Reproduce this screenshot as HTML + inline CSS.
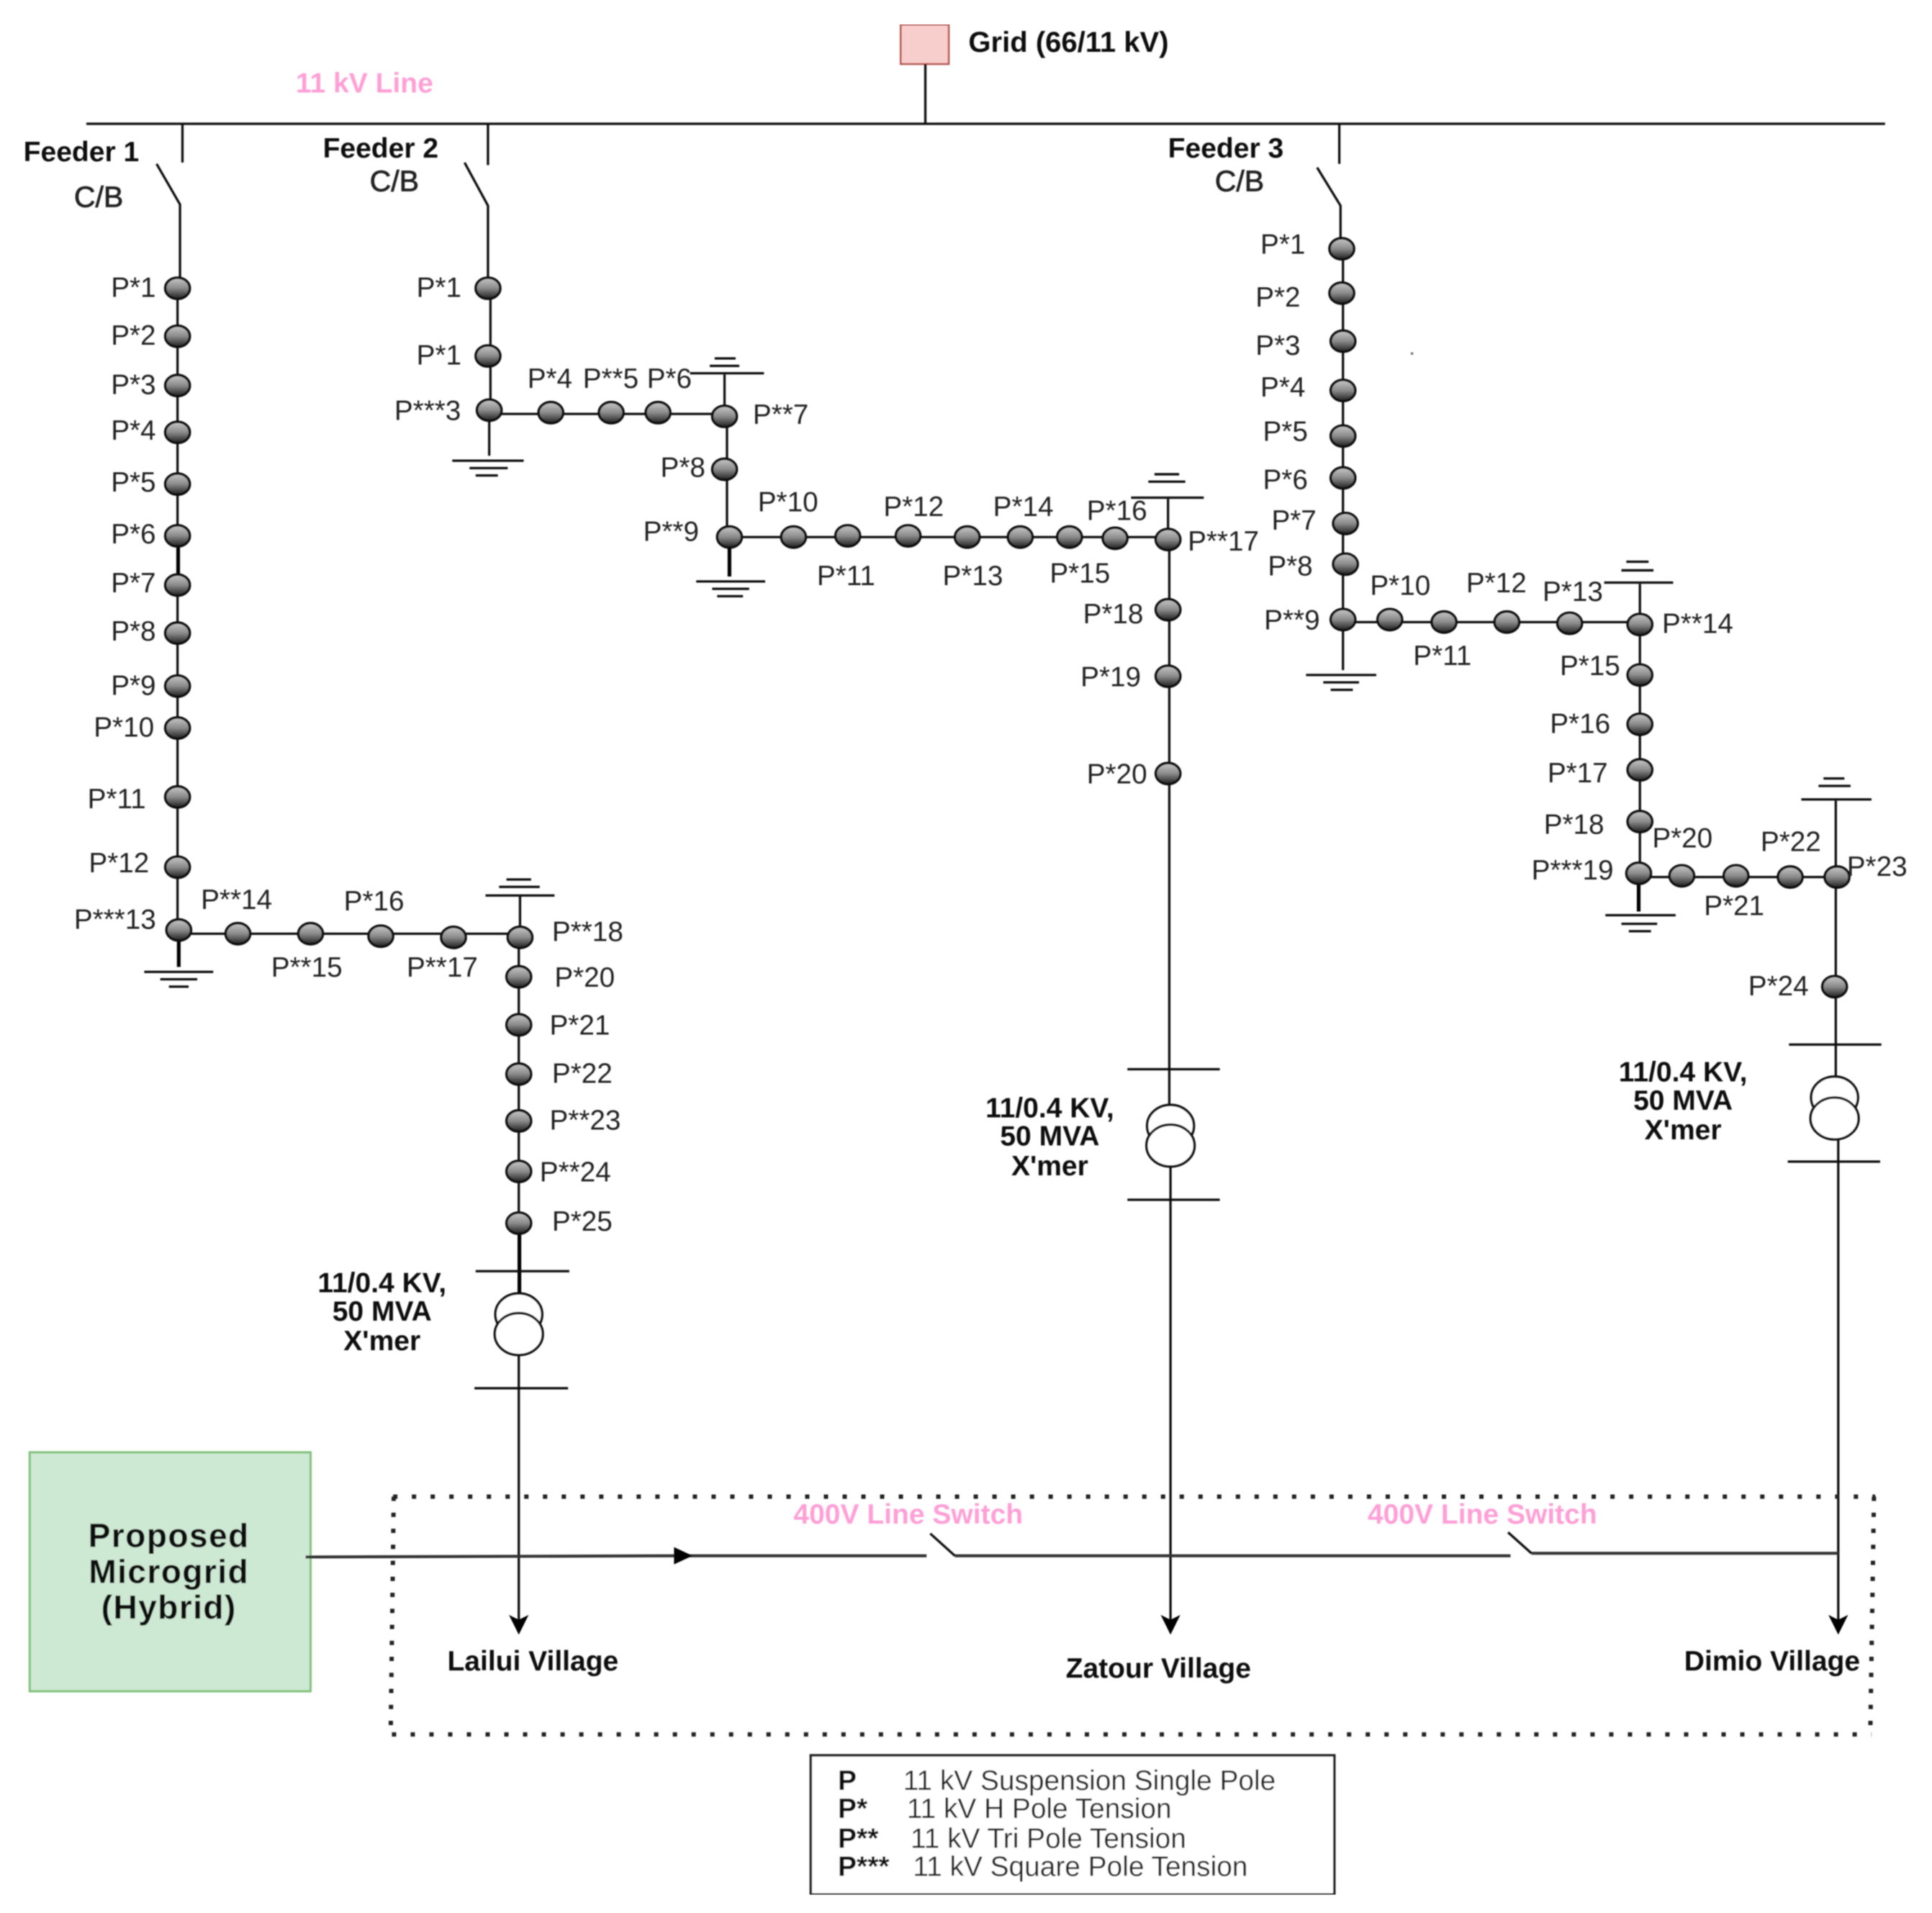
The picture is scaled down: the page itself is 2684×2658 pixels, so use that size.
<!DOCTYPE html>
<html>
<head>
<meta charset="utf-8">
<style>
html,body{margin:0;padding:0;background:#fff}
svg{display:block}
text{font-family:"Liberation Sans",sans-serif;font-size:22.600px;fill:#222}
.b{font-weight:bold;fill:#111;font-size:22.800px}
.p{font-weight:bold;fill:#ff9fd6;font-size:22.800px}
.m{text-anchor:middle}
.c{fill:#222;stroke:#222;stroke-width:.45px;font-size:24px}
.k{font-size:22.700px}
.l{stroke:#111;stroke-width:1.900;fill:none}
.h{stroke:#000;stroke-width:3;fill:none}
.t{stroke:#111;stroke-width:2;fill:#fff}
</style>
</head>
<body>
<svg xmlns="http://www.w3.org/2000/svg" width="2684" height="2658" viewBox="0 0 1568 1553">
<defs>
<linearGradient id="g" x1="0" y1="0" x2="0" y2="1">
<stop offset="0" stop-color="#c8c8c8"/><stop offset="0.5" stop-color="#8a8a8a"/><stop offset="1" stop-color="#1e1e1e"/>
</linearGradient>
<ellipse id="o" rx="10" ry="8.600" fill="url(#g)" stroke="#111" stroke-width="2"/>
<filter id="s" x="0" y="0" width="100%" height="100%"><feGaussianBlur stdDeviation="0.45"/></filter>
</defs>
<rect width="1568" height="1553" fill="#fff"/>
<g filter="url(#s)">
<!-- Grid and bus -->
<rect x="731" y="20" width="39" height="32" fill="#f8cecc" stroke="#b85450" stroke-width="1.500"/>
<path class="l" d="M751 52V100M70 100.500H1530"/>
<!-- Feeder 1 -->
<path class="l" d="M148 100V132M127 133L146 166V234M144 234V755"/>
<path class="h" d="M145 755V785M144.500 440V470"/>
<path class="l" d="M145 758H422M422 727V761M421 761V993"/>
<path class="h" d="M421.500 993V1050"/>
<path class="l" d="M117 789H173M130 795H160M137 801H153M394 727H450M405 720H438M411 714H431"/>
<!-- Feeder 2 -->
<path class="l" d="M396 100V134M377 132L396 167V234M398 234V333M397 333V370M397 336H588M588 304V338"/>
<path class="l" d="M367 374H425M381 380H412M386 386H404M560 303H620M576 297H600M580 291H597"/>
<path class="l" d="M590 338V436M592 436H948M948 405V438M949 438V897"/>
<path class="h" d="M592 436V468"/>
<path class="l" d="M565 472H621M578 478H608M582 484H603M918 404H977M932 391H962M937 385H957"/>
<!-- Feeder 3 -->
<path class="l" d="M1087 100V133M1069 136L1088 167V202M1090 202V503V544M1090 505H1331M1331 474V507M1331 507V709"/>
<path class="h" d="M1330 709V740"/>
<path class="l" d="M1060 548H1117M1074 554H1103M1080 560H1098M1302 473H1358M1316 463H1342M1320 456H1338M1303 743H1360M1316 750H1345M1322 756H1340"/>
<path class="l" d="M1330 712H1491M1490 650V712M1490 712V875M1462 649H1519M1476 638H1502M1480 632H1497"/>
<rect x="1145" y="286" width="2" height="2" fill="#777"/>
<!-- Poles F1 -->
<use href="#o" x="144" y="234"/><use href="#o" x="144" y="273"/><use href="#o" x="144" y="313"/><use href="#o" x="144" y="351"/><use href="#o" x="144" y="393"/><use href="#o" x="144" y="435"/><use href="#o" x="144" y="475"/><use href="#o" x="144" y="514"/><use href="#o" x="144" y="557"/><use href="#o" x="144" y="591"/><use href="#o" x="144" y="647"/><use href="#o" x="144" y="704"/><use href="#o" x="145" y="755"/>
<use href="#o" x="193" y="758"/><use href="#o" x="252" y="758"/><use href="#o" x="309" y="760"/><use href="#o" x="368" y="761"/><use href="#o" x="422" y="761"/>
<use href="#o" x="421" y="793"/><use href="#o" x="421" y="832"/><use href="#o" x="421" y="872"/><use href="#o" x="421" y="910"/><use href="#o" x="421" y="951"/><use href="#o" x="421" y="993"/>
<!-- Poles F2 -->
<use href="#o" x="396" y="234"/><use href="#o" x="396" y="289"/><use href="#o" x="397" y="333"/>
<use href="#o" x="447" y="335"/><use href="#o" x="496" y="335"/><use href="#o" x="534" y="335"/><use href="#o" x="588" y="338"/>
<use href="#o" x="588" y="381"/><use href="#o" x="592" y="436"/>
<use href="#o" x="644" y="436"/><use href="#o" x="688" y="435"/><use href="#o" x="737" y="435"/><use href="#o" x="785" y="436"/><use href="#o" x="828" y="436"/><use href="#o" x="868" y="436"/><use href="#o" x="905" y="437"/><use href="#o" x="948" y="438"/>
<use href="#o" x="948" y="495"/><use href="#o" x="948" y="549"/><use href="#o" x="948" y="628"/>
<!-- Poles F3 -->
<use href="#o" x="1089" y="202"/><use href="#o" x="1089" y="238"/><use href="#o" x="1090" y="277"/><use href="#o" x="1090" y="317"/><use href="#o" x="1090" y="354"/><use href="#o" x="1090" y="388"/><use href="#o" x="1092" y="425"/><use href="#o" x="1092" y="458"/><use href="#o" x="1090" y="503"/>
<use href="#o" x="1128" y="503"/><use href="#o" x="1172" y="505"/><use href="#o" x="1223" y="505"/><use href="#o" x="1274" y="506"/><use href="#o" x="1331" y="507"/>
<use href="#o" x="1331" y="548"/><use href="#o" x="1331" y="588"/><use href="#o" x="1331" y="625"/><use href="#o" x="1331" y="667"/><use href="#o" x="1330" y="709"/>
<use href="#o" x="1365" y="711"/><use href="#o" x="1409" y="711"/><use href="#o" x="1453" y="712"/><use href="#o" x="1491" y="712"/><use href="#o" x="1489" y="801"/>
<!-- Transformers -->
<path class="l" d="M386 1032H462M385 1127H461M421 1100V1320"/>
<ellipse class="t" cx="421" cy="1067" rx="19" ry="17"/><ellipse class="t" cx="421" cy="1083" rx="19.500" ry="17"/>
<path class="l" d="M915 868H990M915 974H990M950 947V1320"/>
<ellipse class="t" cx="950" cy="914" rx="19" ry="17"/><ellipse class="t" cx="950" cy="930" rx="19.500" ry="17"/>
<path class="l" d="M1452 848H1527M1451 943H1526M1492 925V1320"/>
<ellipse class="t" cx="1489" cy="891" rx="19" ry="17"/><ellipse class="t" cx="1489" cy="908" rx="19.500" ry="17"/>
<!-- Arrows -->
<path d="M421 1327L413 1311L421 1315L429 1311Z" fill="#000"/>
<path d="M950 1327L942 1311L950 1315L958 1311Z" fill="#000"/>
<path d="M1492 1327L1484 1311L1492 1315L1500 1311Z" fill="#000"/>
<!-- Microgrid -->
<rect x="24" y="1179" width="228" height="194" fill="#cde8d3" stroke="#82c27a" stroke-width="1.800"/>
<!-- Dotted area -->
<path d="M319 1215H1522" fill="none" stroke="#222" stroke-width="3.500" stroke-dasharray="3.500 11.700"/>
<path d="M318 1408H1519" fill="none" stroke="#222" stroke-width="3.500" stroke-dasharray="3.500 11.700"/>
<path d="M319.500 1215L317 1408" fill="none" stroke="#222" stroke-width="3.500" stroke-dasharray="3.500 9.500"/>
<path d="M1521 1215L1518 1408" fill="none" stroke="#222" stroke-width="3.500" stroke-dasharray="3.500 9.500"/>
<!-- 400V line -->
<path d="M248 1264L552 1263H752M775 1263H1226M1243 1261H1492" fill="none" stroke="#333" stroke-width="2.400"/>
<path class="l" d="M755 1245L775 1263M1224 1244L1243 1261"/>
<path d="M547 1256L562 1263L547 1270Z" fill="#000"/>
<!-- Legend -->
<rect x="658" y="1425" width="425" height="113" fill="#fff" stroke="#222" stroke-width="2"/>
<!-- Text -->
<text class="b" x="786" y="42" style="font-size:23.400px">Grid (66/11 kV)</text>
<text class="p" x="240" y="75">11 kV Line</text>
<text class="b" x="19" y="131">Feeder 1</text><text class="c" x="60" y="168">C/B</text>
<text class="b" x="262" y="128">Feeder 2</text><text class="c" x="300" y="155">C/B</text>
<text class="b" x="948" y="128">Feeder 3</text><text class="c" x="986" y="155">C/B</text>

<text x="90" y="241">P*1</text><text x="90" y="280">P*2</text><text x="90" y="320">P*3</text><text x="90" y="357">P*4</text><text x="90" y="399">P*5</text><text x="90" y="441">P*6</text><text x="90" y="481">P*7</text><text x="90" y="520">P*8</text><text x="90" y="564">P*9</text><text x="76" y="598">P*10</text><text x="71" y="656">P*11</text><text x="72" y="708">P*12</text><text x="60" y="754">P***13</text>
<text x="163" y="738">P**14</text><text x="220" y="793">P**15</text><text x="279" y="739">P*16</text><text x="330" y="793">P**17</text><text x="448" y="764">P**18</text><text x="450" y="801">P*20</text><text x="446" y="840">P*21</text><text x="448" y="879">P*22</text><text x="446" y="917">P**23</text><text x="438" y="959">P**24</text><text x="448" y="999">P*25</text>

<text x="338" y="241">P*1</text><text x="338" y="296">P*1</text><text x="320" y="341">P***3</text><text x="428" y="315">P*4</text><text x="473" y="315">P**5</text><text x="525" y="315">P*6</text><text x="611" y="344">P**7</text><text x="536" y="387">P*8</text><text x="522" y="439">P**9</text><text x="615" y="415">P*10</text><text x="663" y="475">P*11</text><text x="717" y="419">P*12</text><text x="765" y="475">P*13</text><text x="806" y="419">P*14</text><text x="852" y="473">P*15</text><text x="882" y="422">P*16</text><text x="964" y="447">P**17</text><text x="879" y="506">P*18</text><text x="877" y="557">P*19</text><text x="882" y="636">P*20</text>

<text x="1023" y="206">P*1</text><text x="1019" y="249">P*2</text><text x="1019" y="288">P*3</text><text x="1023" y="322">P*4</text><text x="1025" y="358">P*5</text><text x="1025" y="397">P*6</text><text x="1032" y="430">P*7</text><text x="1029" y="467">P*8</text><text x="1026" y="511">P**9</text><text x="1112" y="483">P*10</text><text x="1147" y="540">P*11</text><text x="1190" y="481">P*12</text><text x="1252" y="488">P*13</text><text x="1349" y="514">P**14</text><text x="1266" y="548">P*15</text><text x="1258" y="595">P*16</text><text x="1256" y="635">P*17</text><text x="1253" y="677">P*18</text><text x="1243" y="714">P***19</text><text x="1341" y="688">P*20</text><text x="1383" y="743">P*21</text><text x="1429" y="691">P*22</text><text x="1499" y="711">P*23</text><text x="1419" y="808">P*24</text>

<text class="b m" x="310" y="1049">11/0.4 KV,</text><text class="b m" x="310" y="1072">50 MVA</text><text class="b m" x="310" y="1096">X'mer</text>
<text class="b m" x="852" y="907">11/0.4 KV,</text><text class="b m" x="852" y="930">50 MVA</text><text class="b m" x="852" y="954">X'mer</text>
<text class="b m" x="1366" y="878">11/0.4 KV,</text><text class="b m" x="1366" y="901">50 MVA</text><text class="b m" x="1366" y="925">X'mer</text>

<text class="b m" x="137" y="1256" style="font-size:27px;letter-spacing:.8px">Proposed</text>
<text class="b m" x="137" y="1285" style="font-size:27px;letter-spacing:.8px">Microgrid</text>
<text class="b m" x="137" y="1314" style="font-size:27px;letter-spacing:.8px">(Hybrid)</text>

<text class="p" x="644" y="1237">400V Line Switch</text>
<text class="p" x="1110" y="1237">400V Line Switch</text>

<text class="b" x="363" y="1356">Lailui Village</text>
<text class="b" x="865" y="1362">Zatour Village</text>
<text class="b" x="1367" y="1356">Dimio Village</text>

<text class="b" x="680" y="1453">P</text><text class="k" x="733" y="1453">11 kV Suspension Single Pole</text>
<text class="b" x="680" y="1476">P*</text><text class="k" x="736" y="1476">11 kV H Pole Tension</text>
<text class="b" x="680" y="1500">P**</text><text class="k" x="739" y="1500">11 kV Tri Pole Tension</text>
<text class="b" x="680" y="1523">P***</text><text class="k" x="741" y="1523">11 kV Square Pole Tension</text>
</g>
</svg>
</body>
</html>
